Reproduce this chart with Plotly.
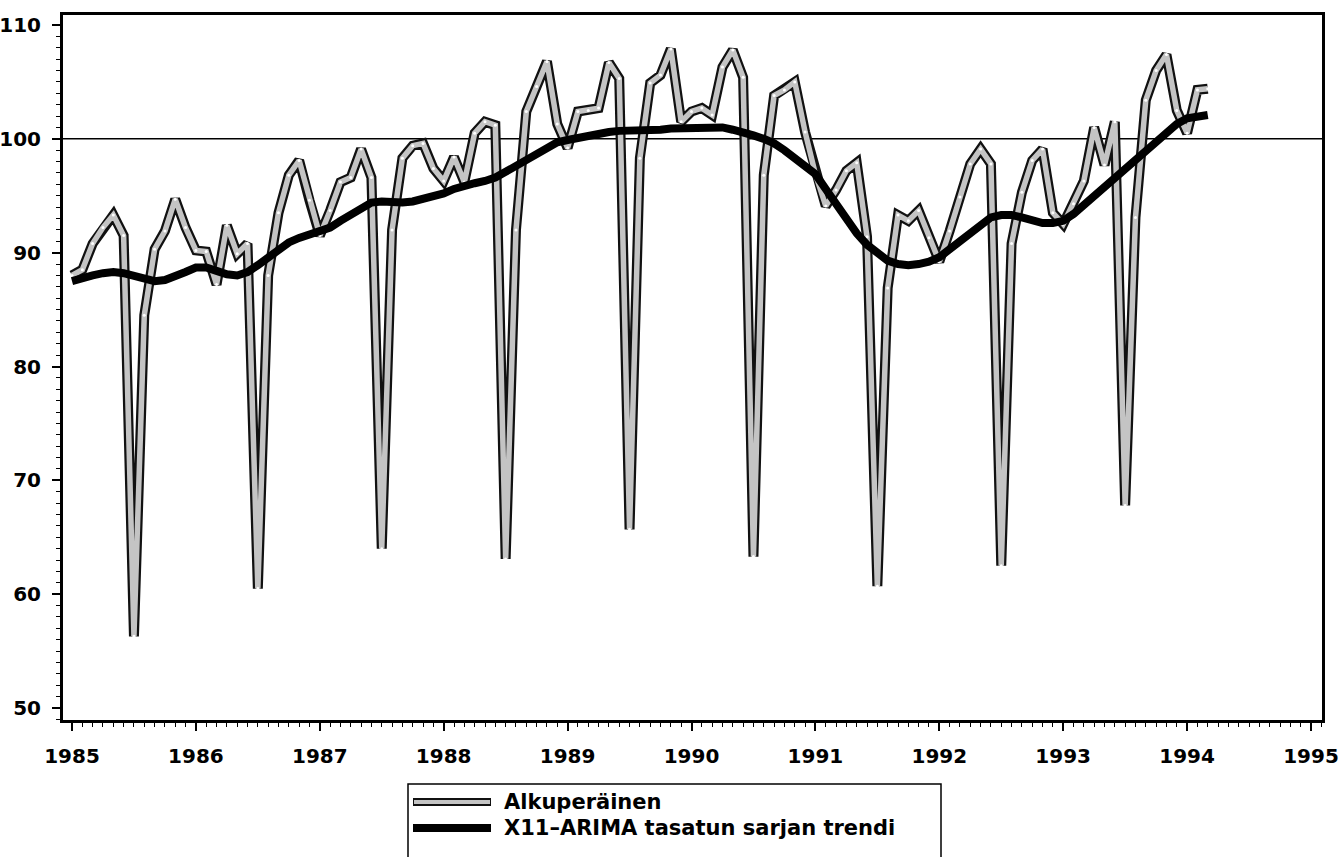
import plotly.graph_objects as go

# ---- data (monthly, Jan 1985 - Mar 1994) ----
start_year = 1985
n_months = 111
periods = [f"{start_year + i // 12}-{i % 12 + 1:02d}" for i in range(n_months)]

original = [
    # 1985
    88.0, 88.5, 90.8, 92.2, 93.3, 91.5, 56.3, 84.5, 90.3, 91.9, 94.7, 92.2,
    # 1986
    90.2, 90.1, 87.2, 92.4, 89.9, 90.8, 60.5, 88.0, 93.5, 96.8, 98.1, 94.6,
    # 1987
    91.5, 93.7, 96.2, 96.6, 99.1, 96.6, 64.0, 92.0, 98.3, 99.4, 99.6, 97.4,
    # 1988
    96.3, 98.4, 96.2, 100.5, 101.5, 101.2, 63.1, 92.0, 102.4, 104.6, 106.8, 101.3,
    # 1989
    99.2, 102.4, 102.5, 102.7, 106.7, 105.3, 65.7, 98.3, 104.9, 105.6, 107.9, 101.5,
    # 1990
    102.4, 102.7, 102.1, 106.3, 107.8, 105.4, 63.3, 96.8, 103.8, 104.3, 105.0, 100.6,
    # 1991
    96.9, 94.1, 95.5, 97.2, 97.9, 91.4, 60.7, 86.9, 93.3, 92.8, 93.7, 91.3,
    # 1992
    89.2, 91.9, 94.9, 97.8, 99.1, 97.8, 62.5, 90.8, 95.3, 98.1, 99.1, 93.5,
    # 1993
    92.5, 94.3, 96.3, 101.0, 97.7, 101.5, 67.8, 93.1, 103.4, 106.0, 107.4, 102.5,
    # 1994
    100.5, 104.3, 104.4,
]

trend = [
    # 1985
    87.5, 87.8, 88.0, 88.2, 88.3, 88.2, 88.0, 87.7, 87.5, 87.6, 87.9, 88.3,
    # 1986
    88.7, 88.7, 88.4, 88.1, 88.0, 88.3, 88.9, 89.6, 90.3, 90.9, 91.3, 91.6,
    # 1987
    91.8, 92.2, 92.8, 93.4, 94.0, 94.4, 94.5, 94.4, 94.4, 94.5, 94.7, 94.9,
    # 1988
    95.2, 95.6, 95.9, 96.1, 96.3, 96.6, 97.1, 97.6, 98.2, 98.8, 99.3, 99.7,
    # 1989
    99.9, 100.1, 100.3, 100.5, 100.6, 100.7, 100.7, 100.75, 100.8, 100.8, 100.9, 100.95,
    # 1990
    101.0, 101.05, 101.1, 101.0, 100.8, 100.6, 100.3, 100.0, 99.6, 99.0, 98.3, 97.6,
    # 1991
    96.9, 95.6, 94.2, 92.9, 91.7, 90.7, 89.9, 89.3, 89.0, 88.9, 89.0, 89.2,
    # 1992
    89.6, 90.3, 91.1, 91.9, 92.6, 93.1, 93.3, 93.3, 93.1, 92.9, 92.6, 92.6,
    # 1993
    92.8, 93.4, 94.2, 95.0, 95.8, 96.6, 97.4, 98.1, 98.8, 99.7, 100.5, 101.3,
    # 1994
    101.8, 102.0, 102.1,
]

year_ticks = list(range(1985, 1996))
y_ticks = [50, 60, 70, 80, 90, 100, 110]
legend_labels = ["Alkuperäinen", "X11–ARIMA tasatun sarjan trendi"]

# decimal-year positions of the monthly periods
xs = [int(p[:4]) + (int(p[5:]) - 1) / 12 for p in periods]

FONT = "DejaVu Sans, Arial"

fig = go.Figure()
# hatched "original" line: dark outline + light grey core + white dots
fig.add_trace(go.Scatter(x=xs, y=original, mode="lines",
                         line=dict(color="#111111", width=10),
                         showlegend=False, hoverinfo="skip"))
fig.add_trace(go.Scatter(x=xs, y=original, mode="lines",
                         line=dict(color="#c4c4c4", width=5.5),
                         name=legend_labels[0], showlegend=False))
fig.add_trace(go.Scatter(x=xs, y=original, mode="markers",
                         marker=dict(color="white", size=3, line=dict(width=0)),
                         showlegend=False, hoverinfo="skip"))
fig.add_trace(go.Scatter(x=xs, y=trend, mode="lines",
                         line=dict(color="black", width=8),
                         name=legend_labels[1], showlegend=False))

# plot-area geometry in pixels (for the legend drawn below the axes)
L, R, T, B = 63, 1322, 15, 720
W, H = 1342, 857


def px(xp):
    return (xp - L) / (R - L)


def py(yp):
    return (B - yp) / (B - T)


ROW1, ROW2 = 802, 828
shapes = [
    # reference line at 100
    dict(type="line", xref="paper", yref="y", x0=0, x1=1, y0=100, y1=100,
         line=dict(color="black", width=1.5), layer="below"),
    # legend box (bottom edge falls outside the picture)
    dict(type="rect", xref="paper", yref="paper",
         x0=px(408), x1=px(941), y0=py(784), y1=py(880),
         line=dict(color="black", width=1.5), fillcolor="rgba(0,0,0,0)"),
    # legend sample 1 (outline + core)
    dict(type="line", xref="paper", yref="paper",
         x0=px(413), x1=px(491), y0=py(ROW1), y1=py(ROW1),
         line=dict(color="#111111", width=8)),
    dict(type="line", xref="paper", yref="paper",
         x0=px(414), x1=px(490), y0=py(ROW1), y1=py(ROW1),
         line=dict(color="#c4c4c4", width=4)),
    # legend sample 2
    dict(type="line", xref="paper", yref="paper",
         x0=px(413), x1=px(491), y0=py(ROW2), y1=py(ROW2),
         line=dict(color="black", width=8)),
]

annotations = [
    dict(xref="paper", yref="paper", x=px(502), y=py(ROW1), xanchor="left",
         yanchor="middle", text=legend_labels[0], showarrow=False,
         font=dict(family=FONT, size=21, color="black", weight="bold")),
    dict(xref="paper", yref="paper", x=px(502), y=py(ROW2), xanchor="left",
         yanchor="middle", text=legend_labels[1], showarrow=False,
         font=dict(family=FONT, size=21, color="black", weight="bold")),
]

x_per_px = (1995 - 1985) / (1311 - 72)
y_per_px = (110 - 50) / (708 - 25)
x_range = [1985 - (72 - L) * x_per_px, 1995 + (R - 1311) * x_per_px]
y_range = [50 - (B - 708) * y_per_px, 110 + (25 - T) * y_per_px]

fig.update_layout(
    width=W, height=H,
    margin=dict(l=L, r=W - R, t=T, b=H - B, autoexpand=False),
    plot_bgcolor="white", paper_bgcolor="white",
    showlegend=False,
    shapes=shapes, annotations=annotations,
    font=dict(family=FONT, color="black"),
    xaxis=dict(range=x_range, tickmode="array", tickvals=year_ticks,
               ticktext=[str(y) for y in year_ticks], automargin=False,
               ticks="outside", ticklen=8, tickwidth=1.5, tickcolor="black",
               showline=True, linecolor="black", linewidth=3, mirror=True,
               showgrid=False, zeroline=False, ticklabelstandoff=8,
               tickfont=dict(size=20, weight="bold", family=FONT),
               minor=dict(tick0=1985, dtick=1 / 12, ticks="outside", ticklen=4,
                          tickwidth=1.2, tickcolor="black", showgrid=False)),
    yaxis=dict(range=y_range, tickmode="array", tickvals=y_ticks, automargin=False,
               ticks="outside", ticklen=8, tickwidth=1.5, tickcolor="black",
               showline=True, linecolor="black", linewidth=3, mirror=True,
               showgrid=False, zeroline=False, ticklabelstandoff=7,
               tickfont=dict(size=20, weight="bold", family=FONT),
               minor=dict(tick0=50, dtick=1, ticks="outside", ticklen=4,
                          tickwidth=1.2, tickcolor="black", showgrid=False)),
)

# remove the default page margin so the figure sits at the window's corner
fig.write_html("out.html",
               config={"displayModeBar": False},
               post_script="document.body.style.margin='0';"
                           "document.body.style.overflow='hidden';")
